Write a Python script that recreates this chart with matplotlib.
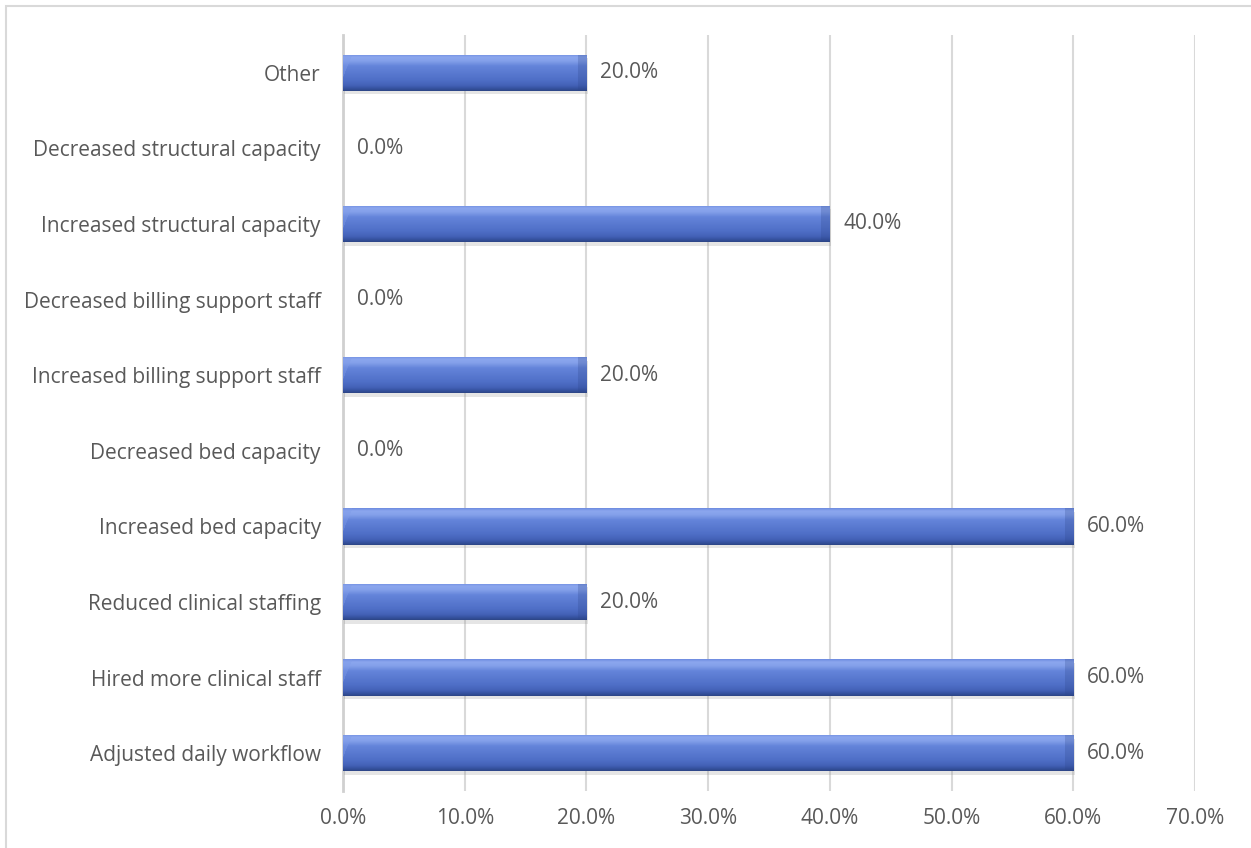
import numpy as np
import matplotlib
matplotlib.use("Agg")
import matplotlib.pyplot as plt
from matplotlib.ticker import MultipleLocator, FuncFormatter
from matplotlib.patches import Rectangle
import matplotlib.patheffects as pe

categories = [
    "Adjusted daily workflow",
    "Hired more clinical staff",
    "Reduced clinical staffing",
    "Increased bed capacity",
    "Decreased bed capacity",
    "Increased billing support staff",
    "Decreased billing support staff",
    "Increased structural capacity",
    "Decreased structural capacity",
    "Other",
]
shares = [0.60, 0.60, 0.20, 0.60, 0.00, 0.20, 0.00, 0.40, 0.00, 0.20]

plt.rcParams["font.family"] = ["Open Sans", "DejaVu Sans"]
text_color = "#595959"
grid_color = "#d9d9d9"
fsize = 15

fig = plt.figure(figsize=(12.51, 8.48), dpi=100)
fig.patches.append(Rectangle((6 / 1251, -0.1), 1.2, (842 / 848) + 0.1,
                             transform=fig.transFigure, fill=False,
                             edgecolor="#d9d9d9", linewidth=1.5))
ax = fig.add_axes([343 / 1251, 1 - 791 / 848, 852 / 1251, 756 / 848])

y = np.arange(len(categories))
bar_h = 0.48
bars = ax.barh(y, shares, height=bar_h, color="#5676cf", zorder=3,
               linewidth=0)
for b in bars:
    b.set_path_effects([pe.SimplePatchShadow(offset=(1.0, -2.5), shadow_rgbFace="#8c8c8c",
                                             alpha=0.22, rho=1), pe.Normal()])

ax.set_xlim(0, 0.7)
ax.set_ylim(-0.5, len(categories) - 0.5)


def hexrgb(h):
    h = h.lstrip("#")
    return np.array([int(h[i:i + 2], 16) / 255 for i in (0, 2, 4)])


# vertical shading profile across the bar thickness (top -> bottom)
stops = [(0.00, "#6f8ce0"), (0.07, "#8ca7ee"), (0.18, "#84a0ea"),
         (0.32, "#6484da"), (0.70, "#4f6fc7"), (0.85, "#4462b8"),
         (0.95, "#34509c"), (1.00, "#2e4687")]
rows = 48
tpos = np.linspace(0, 1, rows)
sp = np.array([s[0] for s in stops])
sc = np.array([hexrgb(s[1]) for s in stops])
profile = np.stack([np.interp(tpos, sp, sc[:, k]) for k in range(3)], axis=1)

px_per_unit = ax.get_position().width * fig.get_figwidth() * fig.dpi / 0.7
for b, v in zip(bars, shares):
    if v <= 0:
        continue
    cols = max(int(v * px_per_unit), 2)
    img = np.repeat(profile[:, None, :], cols, axis=1).copy()
    bev = 9
    ii, jj = np.meshgrid(np.arange(rows) / (rows - 1), np.arange(cols), indexing="ij")
    # left end: lighter bevel in the upper corner
    lmask = (jj < bev * (1 - ii / 0.6)) & (ii < 0.6)
    img[lmask] = img[lmask] * 0.6 + 0.4 * hexrgb("#7f9ce8")
    # right end: darker bevel
    rmask = jj >= cols - bev
    img[rmask] = img[rmask] * 0.75 + 0.25 * hexrgb("#2c4488")
    im = ax.imshow(img, extent=[0, v, b.get_y(), b.get_y() + b.get_height()],
                   aspect="auto", interpolation="bilinear", zorder=4)
    im.set_clip_path(b)

ax.set_xlim(0, 0.7)
ax.set_ylim(-0.5, len(categories) - 0.5)

for yi, v in zip(y, shares):
    ax.annotate(f"{v * 100:.1f}%", xy=(v, yi), xytext=(10, 0),
                textcoords="offset points", va="center", ha="left",
                fontsize=fsize, color=text_color, zorder=5)

ax.set_yticks(y)
ax.set_yticklabels(categories)
ax.xaxis.set_major_locator(MultipleLocator(0.1))
ax.xaxis.set_major_formatter(FuncFormatter(lambda x, _: f"{x * 100:.1f}%"))
ax.tick_params(axis="both", length=0, labelsize=fsize, labelcolor=text_color)
ax.tick_params(axis="y", pad=16)
ax.tick_params(axis="x", pad=12)
ax.grid(axis="x", color=grid_color, linewidth=1.5, zorder=0)
ax.set_axisbelow(True)
for side in ("top", "right", "bottom"):
    ax.spines[side].set_visible(False)
ax.spines["left"].set_color("#d0d0d0")
ax.spines["left"].set_linewidth(2)

fig.savefig("out.png", dpi=100)
